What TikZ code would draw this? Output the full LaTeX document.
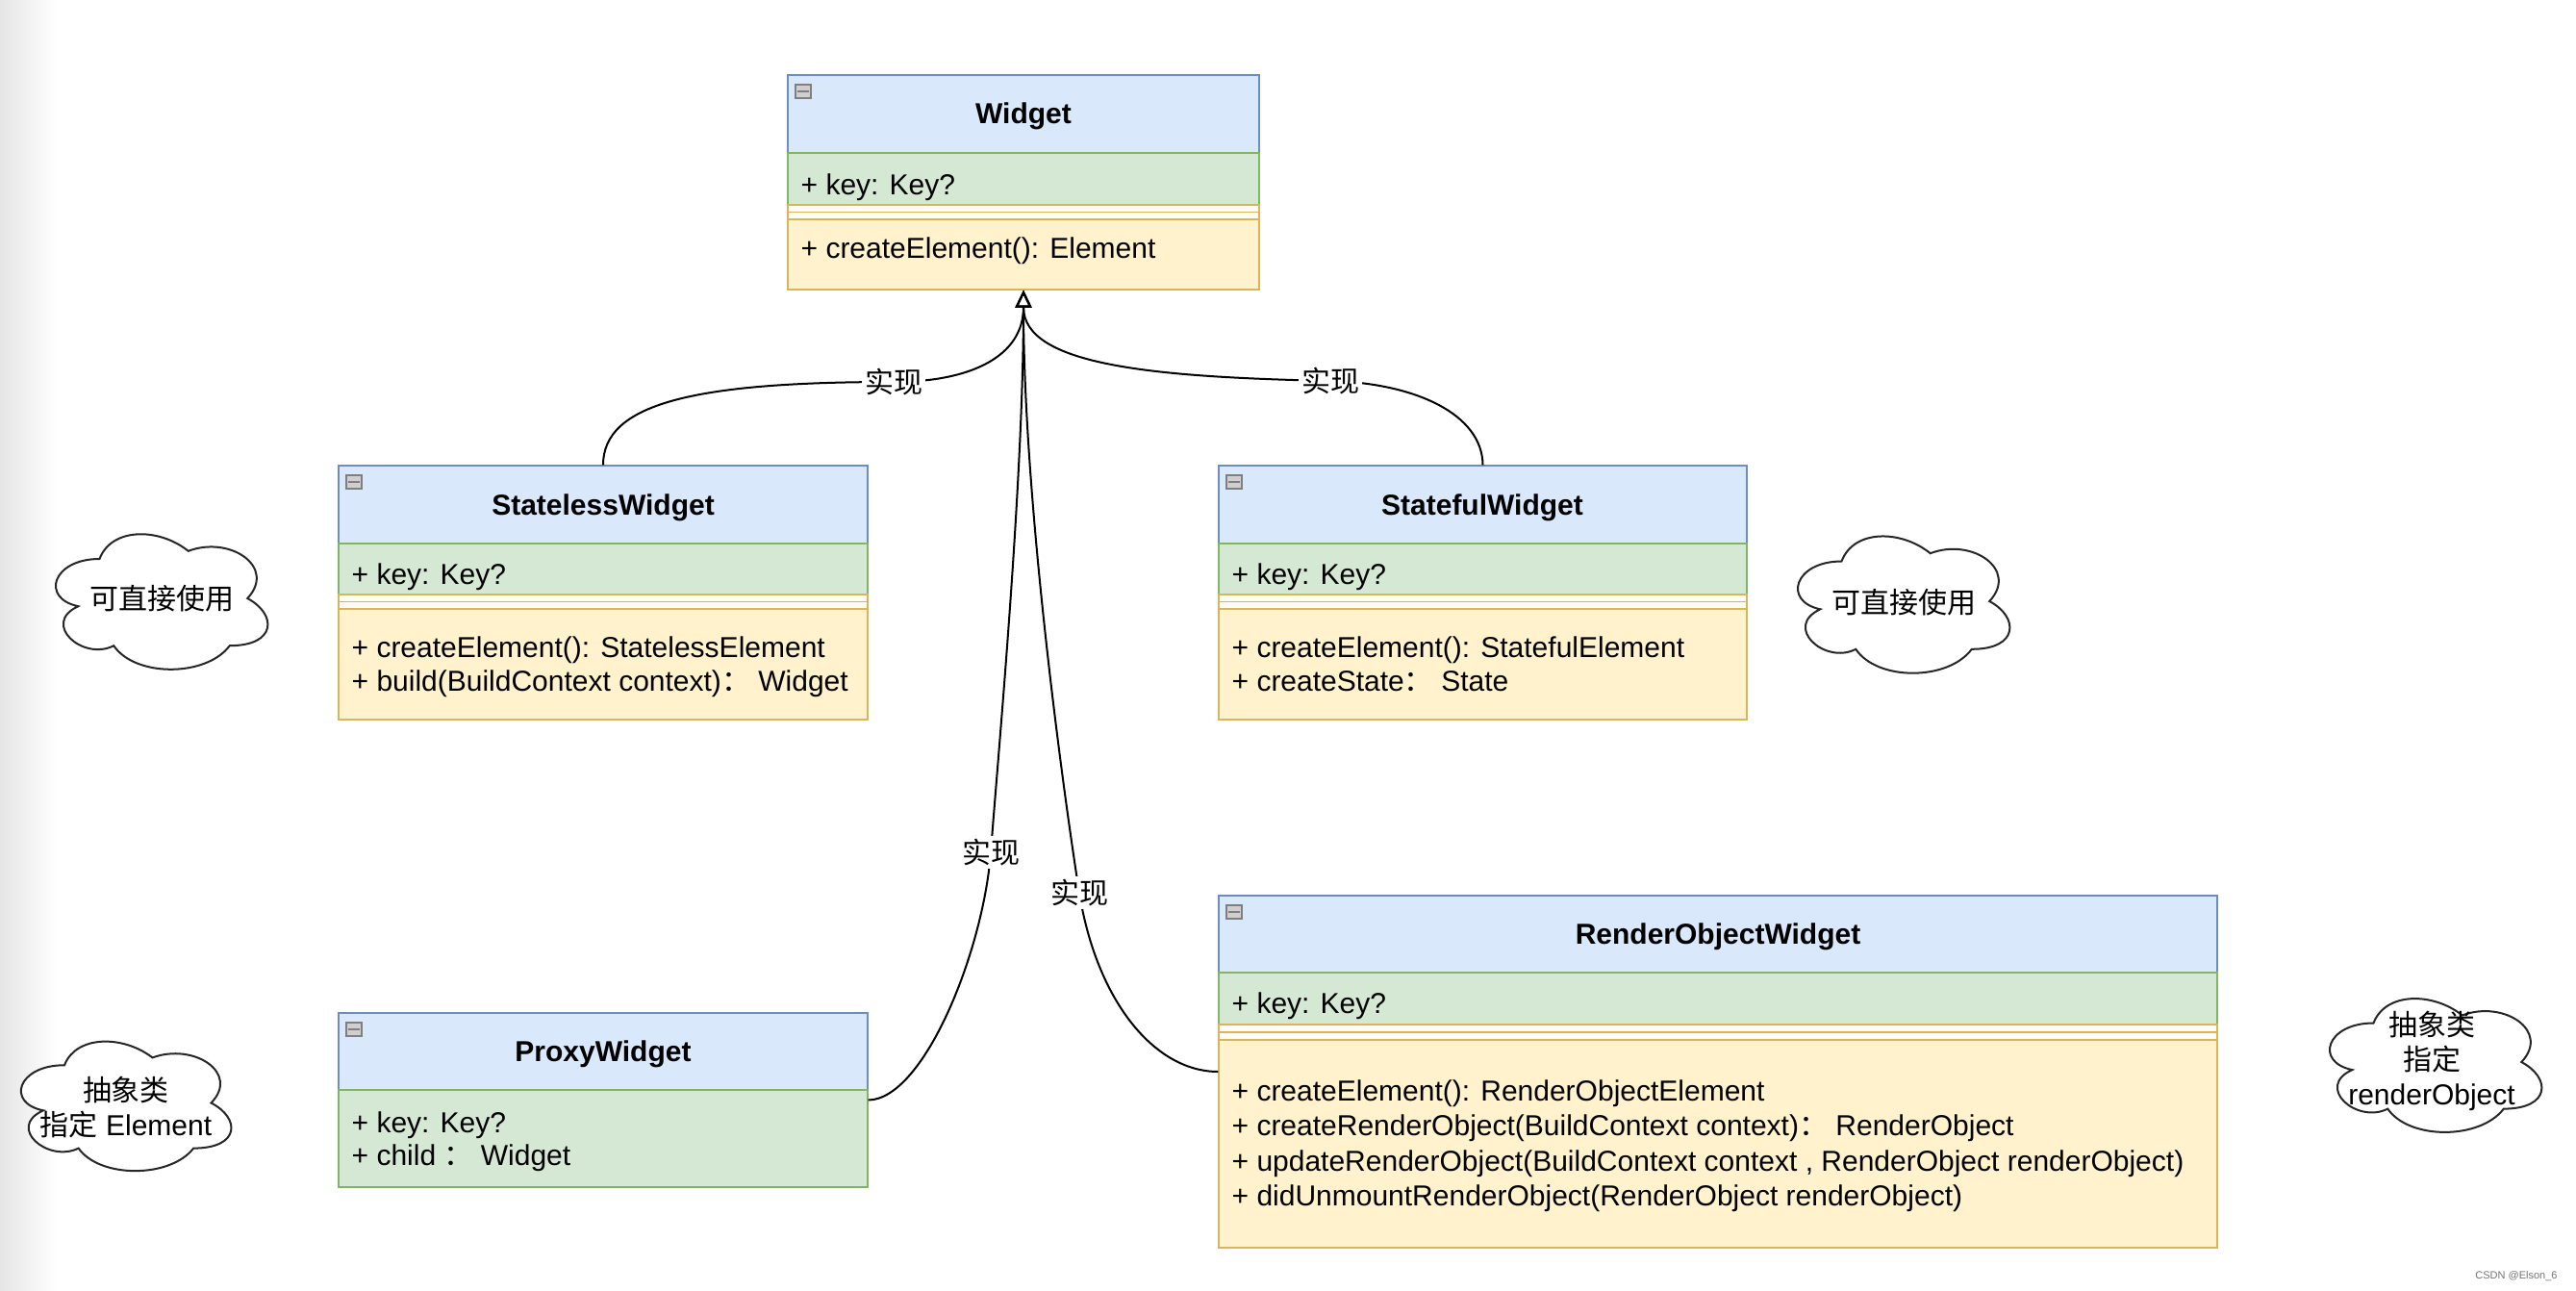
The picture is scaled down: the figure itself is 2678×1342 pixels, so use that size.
\documentclass[tikz,border=0pt]{standalone}
\usepackage{fontspec}
\setmainfont{Liberation Sans}
\newfontfamily\cjk{Noto Sans CJK SC}
\usetikzlibrary{arrows.meta,fit}
\definecolor{hdrf}{HTML}{DAE8FC}
\definecolor{hdrb}{HTML}{6C8EBF}
\definecolor{attf}{HTML}{D5E8D4}
\definecolor{attb}{HTML}{82B366}
\definecolor{metf}{HTML}{FFF2CC}
\definecolor{metb}{HTML}{D6B656}
\definecolor{sepf}{HTML}{FFFDF3}
\definecolor{icof}{HTML}{CFCFCF}
\definecolor{icob}{HTML}{7F7F7F}
\newcommand\zh[1]{{\cjk #1}}
\newcommand\umlclass[8]{%
  \draw[hdr] (#2,#4) rectangle (#3,#5);
  \draw[att] (#2,#5) rectangle (#3,#6);
  \draw[sepbox] (#2,#6) rectangle (#3,#7);
  \draw[metb,line width=0.5pt] (#2,{(#6+#7)/2}) -- (#3,{(#6+#7)/2});
  \draw[met] (#2,#7) rectangle (#3,#8);
  \draw[icon] ({#2+8},{#4+10}) rectangle ({#2+24},{#4+24});
  \draw[icob,line width=0.6pt] ({#2+10},{#4+17}) -- ({#2+22},{#4+17});
  \node[fit={(#2,#4) (#3,#8)},inner sep=0pt] (#1) {};
}
% draw.io style cloud: name, x0, y0, w, h
\newcommand\drawcloud[5]{%
  \draw[cloudline] ({#2+0.25*#4},{#3+0.25*#5})
    .. controls ({#2+0.05*#4},{#3+0.25*#5}) and ({#2},{#3+0.5*#5}) .. ({#2+0.16*#4},{#3+0.55*#5})
    .. controls ({#2},{#3+0.66*#5}) and ({#2+0.18*#4},{#3+0.9*#5}) .. ({#2+0.31*#4},{#3+0.8*#5})
    .. controls ({#2+0.4*#4},{#3+#5}) and ({#2+0.7*#4},{#3+#5}) .. ({#2+0.8*#4},{#3+0.8*#5})
    .. controls ({#2+#4},{#3+0.8*#5}) and ({#2+#4},{#3+0.6*#5}) .. ({#2+0.875*#4},{#3+0.5*#5})
    .. controls ({#2+#4},{#3+0.3*#5}) and ({#2+0.8*#4},{#3+0.1*#5}) .. ({#2+0.625*#4},{#3+0.2*#5})
    .. controls ({#2+0.5*#4},{#3+0.05*#5}) and ({#2+0.3*#4},{#3+0.05*#5}) .. ({#2+0.25*#4},{#3+0.25*#5})
    -- cycle;
  \node[fit={(#2,#3) ({#2+#4},{#3+#5})},inner sep=0pt] (#1) {};
}
\begin{document}
\begin{tikzpicture}[x=0.3pt,y=-0.3pt,
  hdr/.style={draw=hdrb,fill=hdrf,line width=0.6pt},
  att/.style={draw=attb,fill=attf,line width=0.6pt},
  met/.style={draw=metb,fill=metf,line width=0.6pt},
  sepbox/.style={draw=metb,fill=sepf,line width=0.5pt},
  icon/.style={draw=icob,fill=icof,line width=0.4pt},
  txt/.style={anchor=base west,inner sep=0pt,font=\fontsize{9.0}{11}\selectfont},
  ttl/.style={inner sep=0pt,font=\bfseries\fontsize{9.0}{11}\selectfont},
  lbl/.style={fill=white,inner sep=1pt,font=\cjk\fontsize{9}{11}\selectfont},
  conn/.style={line width=0.6pt,-{Triangle[open,length=5.4pt,width=5pt]}},
  cloudline/.style={draw=black!85,fill=white,line width=0.6pt},
  ctxt/.style={align=center,inner sep=0pt,font=\fontsize{9}{10.8}\selectfont}]
\useasboundingbox (0,0) rectangle (2678,1342);
\fill[white] (0,0) rectangle (2678,1342);
\shade[left color=black!10,right color=white] (0,0) rectangle (60,1342);

% classes
\umlclass{w}{819}{1309}{78}{159}{213}{228}{301}
\node[ttl] (wt) at (1064,121) {Widget};
\node[txt] (wa) at (832,202) {+ key: Key?};
\node[txt] (wm) at (832,268) {+ createElement(): Element};

\umlclass{sl}{352}{902}{484}{565}{618}{633}{748}
\node[ttl] (slt) at (627,528) {StatelessWidget};
\node[txt] (sla) at (365,607) {+ key: Key?};
\node[txt] (slm1) at (365,683) {+ createElement(): StatelessElement};
\node[txt] (slm2) at (365,718) {+ build(BuildContext context)\zh{：} Widget};

\umlclass{sf}{1267}{1816}{484}{565}{618}{633}{748}
\node[ttl] (sft) at (1541,528) {StatefulWidget};
\node[txt] (sfa) at (1280,607) {+ key: Key?};
\node[txt] (sfm1) at (1280,683) {+ createElement(): StatefulElement};
\node[txt] (sfm2) at (1280,718) {+ createState\zh{：} State};

% proxy widget (no methods)
\draw[hdr] (352,1053) rectangle (902,1133);
\draw[att] (352,1133) rectangle (902,1234);
\draw[icon] (360,1063) rectangle (376,1077);
\draw[icob,line width=0.6pt] (362,1070) -- (374,1070);
\node[fit={(352,1053) (902,1234)},inner sep=0pt] (px) {};
\node[ttl] (pxt) at (627,1096) {ProxyWidget};
\node[txt] (pxa1) at (365,1177) {+ key: Key?};
\node[txt] (pxa2) at (365,1211) {+ child \zh{：} Widget};

\umlclass{ro}{1267}{2305}{931}{1011}{1065}{1081}{1297}
\node[ttl] (rot) at (1786,974) {RenderObjectWidget};
\node[txt] (roa) at (1280,1053) {+ key: Key?};
\node[txt] (rom1) at (1280,1144) {+ createElement(): RenderObjectElement};
\node[txt] (rom2) at (1280,1180) {+ createRenderObject(BuildContext context)\zh{：} RenderObject};
\node[txt] (rom3) at (1280,1217) {+ updateRenderObject(BuildContext context , RenderObject renderObject)};
\node[txt] (rom4) at (1280,1253) {+ didUnmountRenderObject(RenderObject renderObject)};

% connectors
\draw[conn] (sl.north) .. controls (627,420) and (720,397) .. (929,397)
  node[lbl] (l1) {实现} .. controls (1010,397) and (1064,370) .. (w.south);
\draw[conn] (sf.north) .. controls (1541,430) and (1470,398) .. (1383,396)
  node[lbl] (l2) {实现} .. controls (1200,392) and (1064,380) .. (w.south);
\draw[conn] (px.east) .. controls (960,1143) and (1022,990) .. (1030,886)
  node[lbl] (l3) {实现} .. controls (1038,780) and (1064,500) .. (w.south);
\draw[conn] (ro.west) .. controls (1200,1114) and (1140,1040) .. (1122,928)
  node[lbl] (l4) {实现} .. controls (1105,820) and (1064,520) .. (w.south);

% clouds
\drawcloud{c1}{42}{540}{246}{164}
\node[ctxt] (c1t) at (168,622) {\zh{可直接使用}};
\drawcloud{c2}{1853}{542}{246}{166}
\node[ctxt] (c2t) at (1979,626) {\zh{可直接使用}};
\drawcloud{c3}{6}{1068}{244}{157}
\node[ctxt] (c3t) at (131,1151) {\zh{抽象类}\\\zh{指定} Element};
\drawcloud{c4}{2406}{1023}{246}{162}
\node[ctxt] (c4t) at (2528,1103) {\zh{抽象类}\\\zh{指定}\\renderObject};

\node[inner sep=0pt,text=black!55,font=\fontsize{3.3}{4}\selectfont] (wmk) at (2616,1327) {CSDN @Elson\_6};
\end{tikzpicture}
\end{document}
